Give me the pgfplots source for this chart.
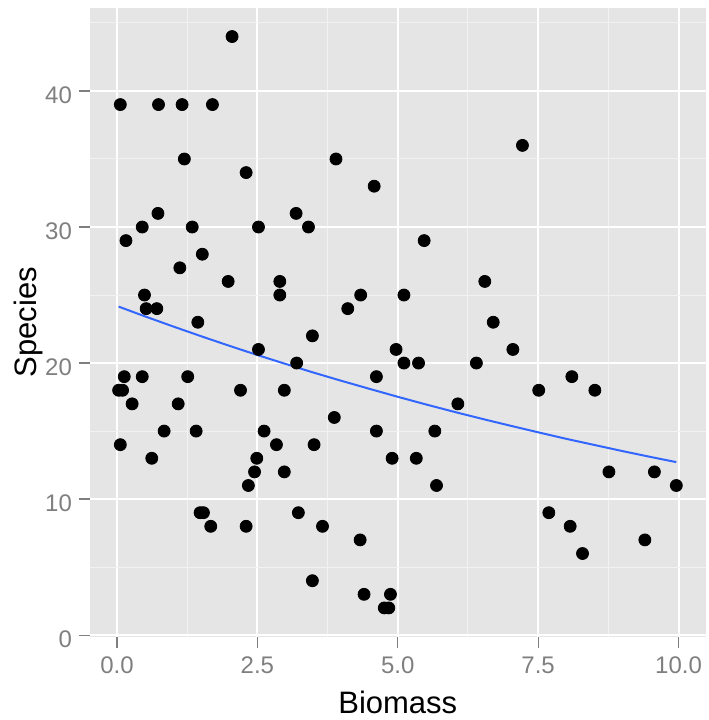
\documentclass[border=0pt]{standalone}
\usepackage{fontspec}
\setmainfont{Liberation Sans}
\usepackage{pgfplots}
\pgfplotsset{compat=1.18}
\definecolor{panelbg}{HTML}{E5E5E5}
\definecolor{minorgrid}{HTML}{F2F2F2}
\definecolor{ticktext}{HTML}{7F7F7F}
\definecolor{smoothblue}{HTML}{3366FF}

\begin{document}
\begin{tikzpicture}
\begin{axis}[
    name=ax,
    scale only axis,
    width=307.75pt,
    height=314.25pt,
    xmin=-0.48, xmax=10.48,
    ymin=-0.1, ymax=46.1,
    xtick={0,2.5,5,7.5,10},
    xticklabels={0.0,2.5,5.0,7.5,10.0},
    ytick={0,10,20,30,40},
    minor xtick={1.25,3.75,6.25,8.75},
    minor ytick={5,15,25,35,45},
    grid=both,
    major grid style={white, line width=1pt},
    minor grid style={minorgrid, line width=0.5pt},
    axis background/.style={fill=panelbg},
    axis line style={draw=none},
    tick align=outside,
    xtick pos=bottom, ytick pos=left,
    major tick length=5.5pt,
    minor tick length=0pt,
    tick style={ticktext, line width=0.6pt},
    ticklabel style={font=\fontsize{12}{14}\selectfont, text=ticktext},
    xticklabel style={yshift=-1pt},
    yticklabel style={yshift=-2pt},
    /pgf/number format/assume math mode=true,
    xlabel={Biomass},
    ylabel={Species},
    every axis x label/.style={at={(axis description cs:0.5,0)}, anchor=base, inner sep=0pt, yshift=-38.4pt, font=\fontsize{15.5}{18}\selectfont},
    every axis y label/.style={at={(axis description cs:0,0.5)}, anchor=base, inner sep=0pt, rotate=90, yshift=26.7pt, font=\fontsize{15.5}{18}\selectfont},
    clip=true,
]
\addplot[only marks, mark=*, mark size=3pt, mark options={fill=black, draw=black}] coordinates {
(2.05,44) (0.06,39) (0.74,39) (1.16,39) (1.70,39) (1.20,35) (2.30,34) (3.90,35) (4.58,33)
(0.73,31) (0.45,30) (0.16,29) (1.34,30) (2.52,30) (3.19,31) (3.41,30) (1.52,28) (1.12,27)
(1.98,26) (2.90,26) (2.90,25) (0.49,25) (0.52,24) (0.71,24) (1.44,23) (3.48,22) (4.11,24)
(4.34,25) (5.11,25) (7.22,36) (5.47,29) (6.55,26) (6.70,23) (2.52,21) (3.20,20) (4.97,21)
(5.11,20) (0.13,19) (0.45,19) (1.26,19) (4.62,19) (0.03,18) (0.10,18) (0.27,17) (1.09,17)
(2.20,18) (2.98,18) (3.87,16) (0.84,15) (1.41,15) (2.62,15) (4.62,15) (0.06,14) (0.62,13)
(2.84,14) (3.51,14) (2.49,13) (4.90,13) (2.45,12) (2.98,12) (2.34,11) (1.48,9) (1.54,9)
(1.67,8) (2.30,8) (3.23,9) (3.66,8) (4.33,7) (3.48,4) (4.40,3) (4.87,3) (4.76,2) (4.84,2)
(5.37,20) (6.40,20) (7.05,21) (6.07,17) (5.66,15) (5.33,13) (5.69,11) (7.51,18) (8.10,19)
(8.51,18) (8.76,12) (9.57,12) (9.96,11) (7.69,9) (8.07,8) (8.29,6) (9.40,7)
};
\addplot[smoothblue, line width=1pt, no marks] coordinates {
(0.03,24.15) (0.5,23.43) (1.0,22.69) (1.5,21.97) (2.0,21.27) (2.5,20.59) (3.0,19.94)
(3.5,19.30) (4.0,18.69) (4.5,18.10) (5.0,17.52) (5.5,16.96) (6.0,16.42) (6.5,15.90)
(7.0,15.40) (7.5,14.91) (8.0,14.43) (8.5,13.98) (9.0,13.53) (9.5,13.10) (9.96,12.72)
};
\end{axis}
\path (ax.south west) ++(-45pt,-41.75pt) coordinate (bbsw);
\path (ax.north east) ++(1.25pt,4pt) coordinate (bbne);
\path (bbsw) rectangle (bbne);
\end{tikzpicture}
\end{document}
